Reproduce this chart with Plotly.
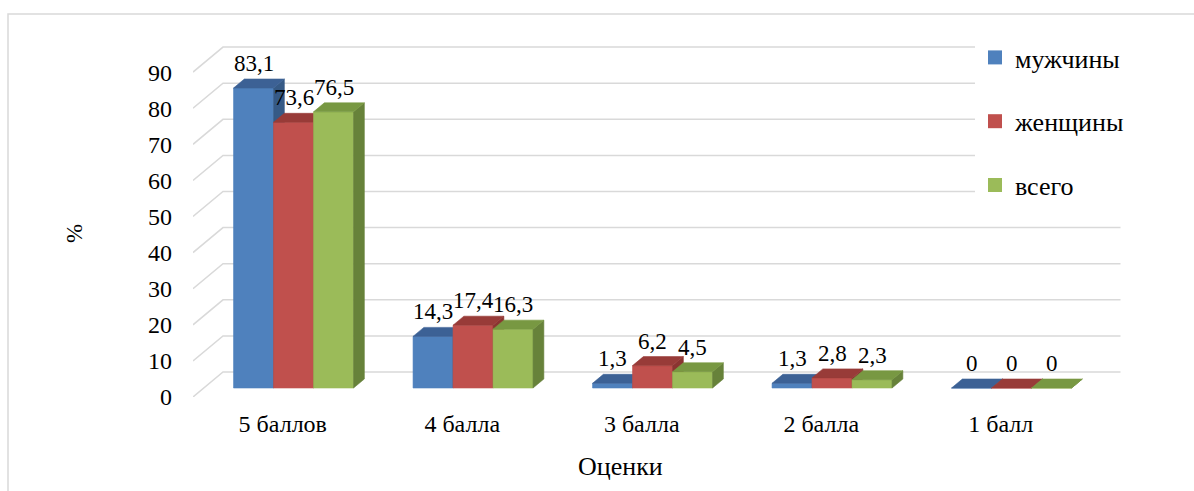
import plotly.graph_objects as go

# ---- data ----
categories = ["5 баллов", "4 балла", "3 балла", "2 балла", "1 балл"]
series_names = ["мужчины", "женщины", "всего"]
men = [83.1, 14.3, 1.3, 1.3, 0]
women = [73.6, 17.4, 6.2, 2.8, 0]
total = [76.5, 16.3, 4.5, 2.3, 0]
y_ticks = [0, 10, 20, 30, 40, 50, 60, 70, 80, 90]

series_values = [men, women, total]
front_colors = ["#4F81BD", "#C0504D", "#9BBB59"]
top_colors = ["#3C6195", "#983B38", "#789842"]
side_colors = ["#365A86", "#8A3431", "#67823A"]

# ---- pseudo-3D geometry (front plane: one category = CAT_PX px, one unit = UNIT_PX px) ----
W, H = 1194, 491
X0_PX, CAT_PX = 193, 179.5
Y0_PX, UNIT_PX = 397, 3.61
DX = 30 / CAT_PX          # floor depth, horizontal part (category units)
DY = 25 / UNIT_PX         # floor depth, vertical part (value units)
F0, F1 = 0.36, 0.72       # front / back of the columns inside the floor depth
BAR_W = 40 / CAT_PX
FONT = "Liberation Serif"

x_min = -0.5
x_max = x_min + (W - X0_PX) / CAT_PX
y_max = Y0_PX / UNIT_PX

fig = go.Figure()

# back wall + side wall gridlines
gx, gy = [], []
for v in y_ticks:
    gx += [x_min, x_min + DX, len(categories) - 0.5 + DX, None]
    gy += [v, v + DY, v + DY, None]
fig.add_trace(go.Scatter(x=gx, y=gy, mode="lines", hoverinfo="skip",
                         line=dict(color="#D9D9D9", width=1.5), showlegend=False))

ddx = (F1 - F0) * DX
ddy = (F1 - F0) * DY
base = F0 * DY
annotations = []

for j, vals in enumerate(series_values):
    fx, fy, sx, sy, tx, ty = [], [], [], [], [], []
    for i, v in enumerate(vals):
        xl = i - 1.5 * BAR_W + j * BAR_W + F0 * DX
        xr = xl + BAR_W
        top = base + v
        fx += [xl, xr, xr, xl, xl, None]
        fy += [base, base, top, top, base, None]
        sx += [xr, xr + ddx, xr + ddx, xr, xr, None]
        sy += [base, base + ddy, top + ddy, top, base, None]
        tx += [xl, xr, xr + ddx, xl + ddx, xl, None]
        ty += [top, top, top + ddy, top + ddy, top, None]
        annotations.append(dict(
            x=xl + BAR_W / 2, y=top + ddy, xref="x", yref="y",
            text=f"{v:g}".replace(".", ","), showarrow=False,
            yanchor="bottom", xanchor="center", yshift=1,
            font=dict(family=FONT, size=23, color="#000000")))
    for px_, py_, col in ((fx, fy, front_colors[j]), (sx, sy, side_colors[j]),
                          (tx, ty, top_colors[j])):
        fig.add_trace(go.Scatter(x=px_, y=py_, mode="lines", fill="toself",
                                 fillcolor=col, line=dict(color=col, width=0.6),
                                 hoverinfo="skip", showlegend=False))

# legend entries (square swatches)
for j, name in enumerate(series_names):
    fig.add_trace(go.Scatter(x=[None], y=[None], name=name, legendgroup=name,
                             mode="markers",
                             marker=dict(symbol="square", size=14,
                                         color=front_colors[j])))

# axis titles
annotations.append(dict(x=620 / W, y=1 - 466 / H, xref="paper", yref="paper",
                        xanchor="center", yanchor="middle",
                        text="Оценки", showarrow=False,
                        font=dict(family=FONT, size=26, color="#000000")))
annotations.append(dict(x=74 / W, y=1 - 234 / H, xref="paper", yref="paper",
                        xanchor="center", yanchor="middle",
                        text="%", showarrow=False, textangle=-90,
                        font=dict(family=FONT, size=23, color="#000000")))

fig.update_layout(
    width=W, height=H,
    margin=dict(l=0, r=0, t=0, b=0, pad=0),
    paper_bgcolor="white", plot_bgcolor="white",
    xaxis=dict(domain=[X0_PX / W, 1], range=[x_min, x_max], automargin=False,
               tickvals=list(range(len(categories))), ticktext=categories,
               showgrid=False, zeroline=False, showline=False, ticks="",
               ticklabelstandoff=10,
               tickfont=dict(family=FONT, size=24, color="#000000")),
    yaxis=dict(domain=[(H - Y0_PX) / H, 1], range=[0, y_max], automargin=False,
               tickvals=y_ticks, showgrid=False, zeroline=False,
               showline=False, ticks="", ticklabelstandoff=20,
               tickfont=dict(family=FONT, size=24, color="#000000")),
    legend=dict(x=975 / W, y=1 - 34 / H, xanchor="left", yanchor="top",
                bgcolor="white", borderwidth=0, tracegroupgap=27,
                itemwidth=30, traceorder="grouped",
                font=dict(family=FONT, size=26, color="#000000")),
    annotations=annotations,
    shapes=[dict(type="rect", xref="paper", yref="paper",
                 x0=8 / W, x1=1.05, y0=-0.05, y1=1 - 14 / H,
                 line=dict(color="#D9D9D9", width=1.5), fillcolor="rgba(0,0,0,0)")],
)

fig.write_html("out.html")
